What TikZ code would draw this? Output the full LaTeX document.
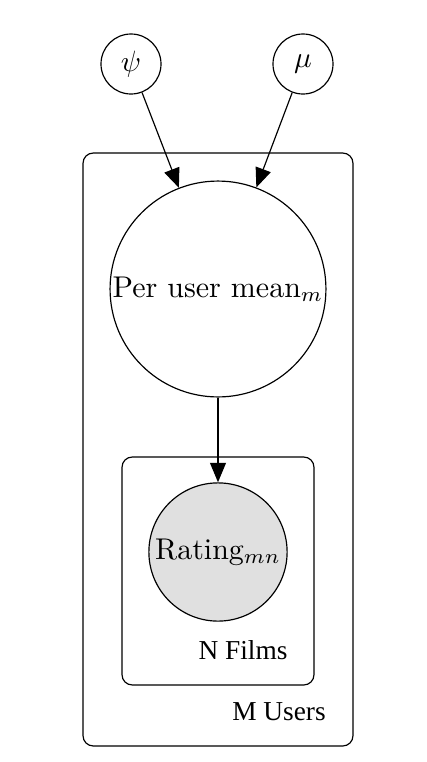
\documentclass[tikz,border=0pt]{standalone}
\usepackage{fontspec}
\newfontfamily\platefont{Liberation Serif}
\usetikzlibrary{arrows.meta}
\definecolor{obsgray}{RGB}{224,224,224}
\begin{document}
\begin{tikzpicture}[x=0.34pt, y=-0.34pt,
  latent/.style={circle, draw, inner sep=0pt},
  edge/.style={-{Triangle[length=6.6pt, width=5.4pt]}},
  plate/.style={draw, rounded corners=3.5pt},
  platelabel/.style={font=\platefont\fontsize{9.3}{10}\selectfont}]
\useasboundingbox (0,0) rectangle (426,762);
% plates
\draw[plate] (83,153) rectangle (353,746);
\draw[plate] (122,457) rectangle (314,685);
\node[platelabel] (usersl) at (279,712) {M Users};
\node[platelabel] (filmsl) at (243,650) {N Films};
% variables
\node[latent, minimum size=20.4pt] (psi) at (131,64) {$\psi$};
\node[latent, minimum size=20.4pt] (mu) at (303,64) {$\mu$};
\node[latent, minimum size=73.4pt, font=\fontsize{10.2}{12}\selectfont] (mean) at (218,289) {Per user mean$_m$};
\node[latent, minimum size=47pt, fill=obsgray, font=\fontsize{10.2}{12}\selectfont] (rating) at (218,552) {Rating$_{mn}$};
% edges
\draw[edge] (psi) -- (mean);
\draw[edge] (mu) -- (mean);
\draw[edge] (mean) -- (rating);
\end{tikzpicture}
\end{document}
